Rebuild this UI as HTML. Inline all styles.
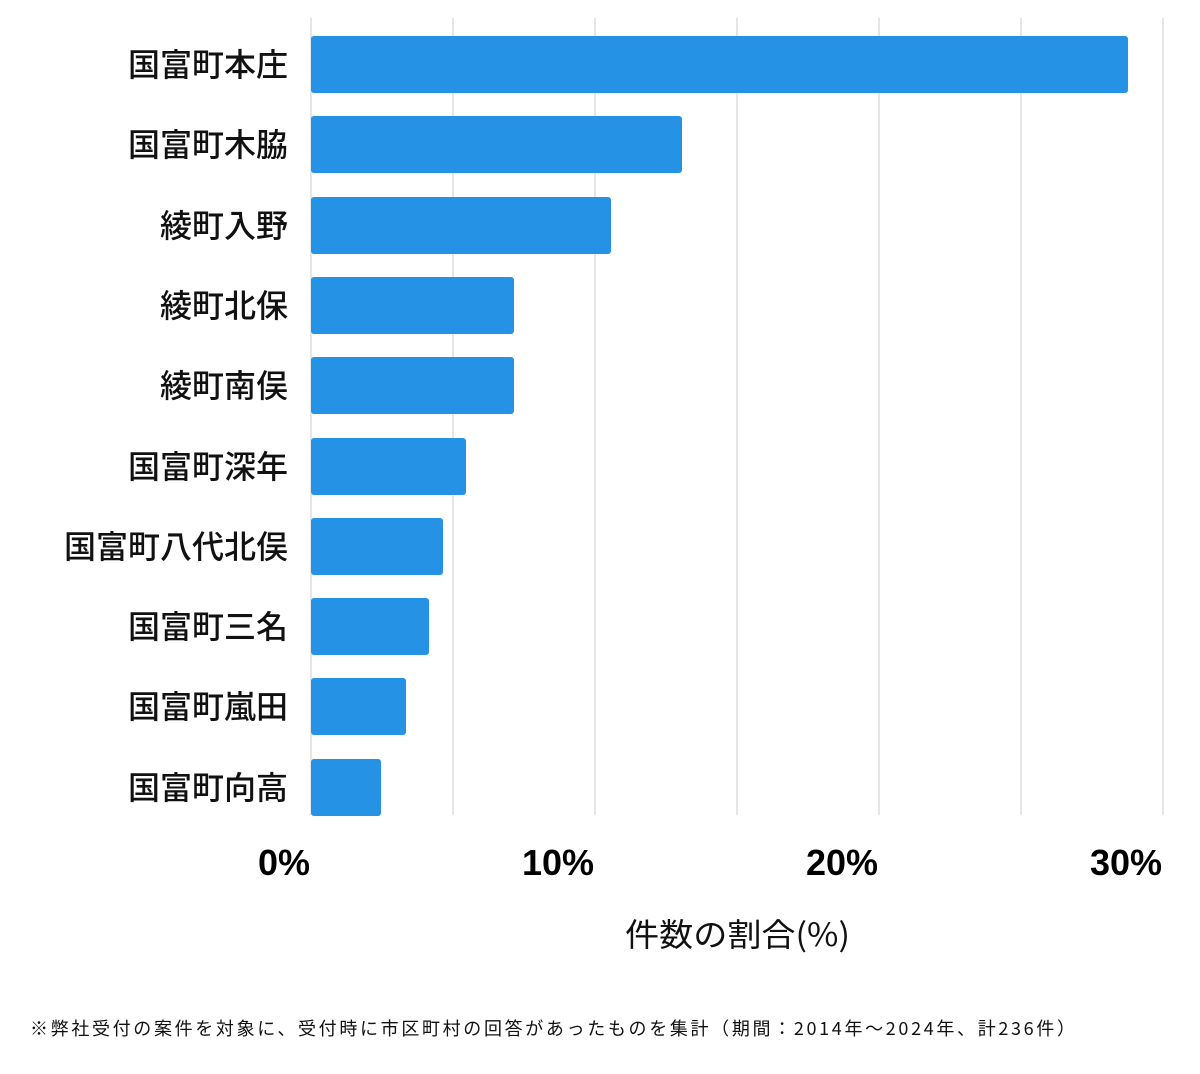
<!DOCTYPE html>
<html><head><meta charset="utf-8"><style>
body{margin:0;background:#fff;width:1200px;height:1069px;overflow:hidden}
</style></head><body>
<svg width="1200" height="1069" xmlns="http://www.w3.org/2000/svg" font-family="'Noto Sans CJK JP',sans-serif">
<g stroke="#dddddd" stroke-width="1.5">
<line x1="311" y1="18" x2="311" y2="815"/><line x1="453" y1="18" x2="453" y2="815"/>
<line x1="595" y1="18" x2="595" y2="815"/><line x1="737" y1="18" x2="737" y2="815"/>
<line x1="879" y1="18" x2="879" y2="815"/><line x1="1021" y1="18" x2="1021" y2="815"/>
<line x1="1163" y1="18" x2="1163" y2="815"/>
</g>
<g fill="#2592e6">
<rect x="311" y="36" width="817" height="57" rx="3"/>
<rect x="311" y="116" width="371" height="57" rx="3"/>
<rect x="311" y="197" width="300" height="57" rx="3"/>
<rect x="311" y="277" width="203" height="57" rx="3"/>
<rect x="311" y="357" width="203" height="57" rx="3"/>
<rect x="311" y="438" width="155" height="57" rx="3"/>
<rect x="311" y="518" width="132" height="57" rx="3"/>
<rect x="311" y="598" width="118" height="57" rx="3"/>
<rect x="311" y="678" width="95" height="57" rx="3"/>
<rect x="311" y="759" width="70" height="57" rx="3"/>
</g>
<g font-size="32" font-weight="500" text-anchor="end" fill="#111">
<text x="288" y="76">国富町本庄</text>
<text x="288" y="156">国富町木脇</text>
<text x="288" y="237">綾町入野</text>
<text x="288" y="317">綾町北保</text>
<text x="288" y="397">綾町南俣</text>
<text x="288" y="478">国富町深年</text>
<text x="288" y="558">国富町八代北俣</text>
<text x="288" y="638">国富町三名</text>
<text x="288" y="718">国富町嵐田</text>
<text x="288" y="799">国富町向高</text>
</g>
<g font-size="36" font-weight="bold" text-anchor="end" fill="#000" font-family="'Liberation Sans',sans-serif">
<text x="310" y="875">0%</text><text x="594" y="875">10%</text>
<text x="878" y="875">20%</text><text x="1162" y="875">30%</text>
</g>
<text x="625" y="946" font-size="32" fill="#111" textLength="225" lengthAdjust="spacingAndGlyphs">件数の割合(%)</text>
<text x="30" y="1035" font-size="18" fill="#111" textLength="1045" lengthAdjust="spacing">※弊社受付の案件を対象に、受付時に市区町村の回答があったものを集計（期間：2014年～2024年、計236件）</text>
</svg>
</body></html>
